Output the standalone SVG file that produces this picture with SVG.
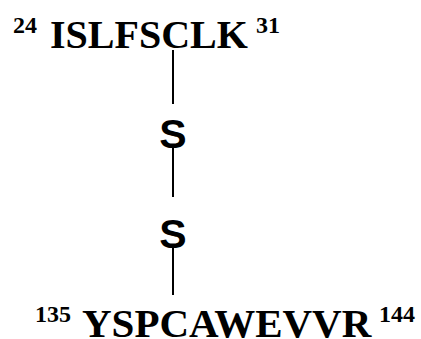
<svg xmlns="http://www.w3.org/2000/svg" width="421" height="339" viewBox="0 0 421 339">
<style>
.bond{stroke:#000;stroke-width:2;fill:none}
</style>
<rect width="421" height="339" fill="#fff"/>
<g id="connectors">
<line class="bond" x1="173" y1="50" x2="173" y2="104"/>
<line class="bond" x1="173" y1="148" x2="173" y2="197"/>
<line class="bond" x1="173" y1="248" x2="173" y2="295"/>
</g>
<g id="peptide-top" font-family="Liberation Serif, Times New Roman, serif" font-weight="bold" fill="#000">
<text x="13" y="33" font-size="24">24</text>
<text x="50" y="48" font-size="40">ISLFSCLK</text>
<text x="256" y="33" font-size="24">31</text>
</g>
<g id="sulfur-1" font-family="Liberation Sans, Arial, sans-serif" font-weight="bold" font-size="41" text-anchor="middle"><text x="173" y="148">S</text></g>
<g id="sulfur-2" font-family="Liberation Sans, Arial, sans-serif" font-weight="bold" font-size="41" text-anchor="middle"><text x="173" y="248">S</text></g>
<g id="peptide-bottom" font-family="Liberation Serif, Times New Roman, serif" font-weight="bold" fill="#000">
<text x="35" y="322" font-size="24">135</text>
<text x="82" y="337" font-size="41">YSPCAWEVVR</text>
<text x="379" y="322" font-size="24">144</text>
</g>
</svg>
